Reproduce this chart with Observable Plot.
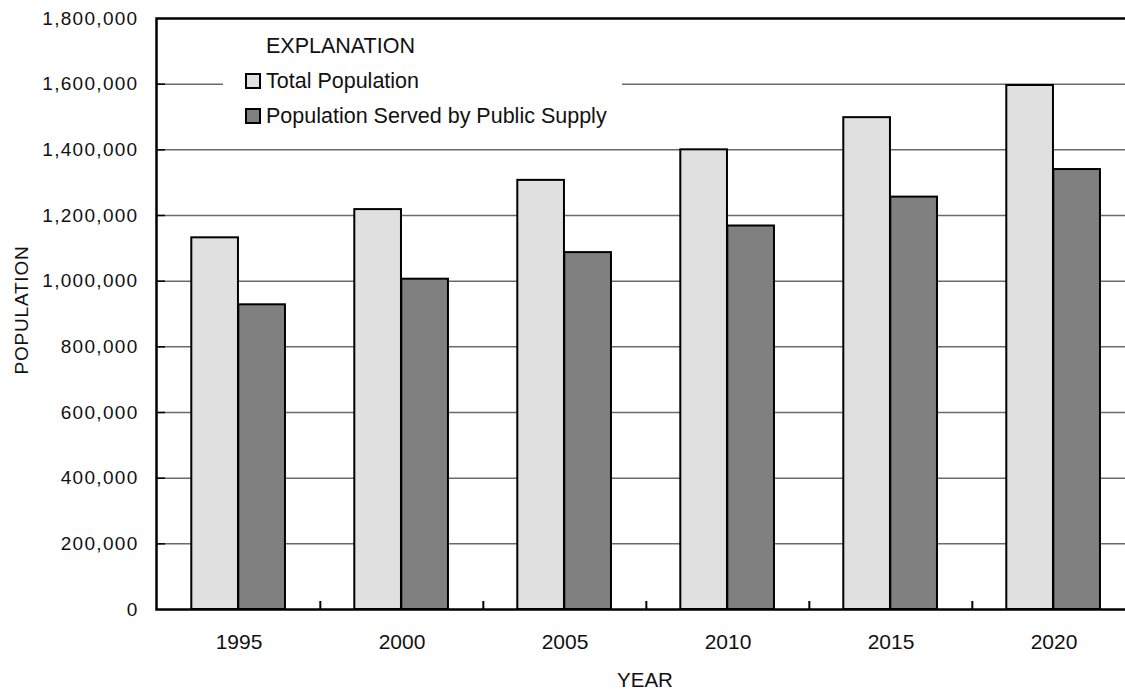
<!DOCTYPE html>
<html>
<head>
<meta charset="utf-8">
<script src="https://cdn.jsdelivr.net/npm/d3@7"></script>
<script src="https://cdn.jsdelivr.net/npm/@observablehq/plot@0.6"></script>
<style>
  html, body { margin: 0; padding: 0; background: #fff; overflow: hidden; }
  #wrap { position: relative; width: 1136px; height: 689px; font-family: "Liberation Sans", Arial, sans-serif; color: #111; }
  .abs { position: absolute; white-space: nowrap; }
  .sw { position: absolute; width: 16px; height: 16px; box-sizing: border-box; border: 2px solid #000; }
</style>
</head>
<body>
<div id="wrap"></div>
<script>
const years = ["1995", "2000", "2005", "2010", "2015", "2020"];
const totalPopulation = [1132000, 1218000, 1307000, 1400000, 1498000, 1596000];
const servedPopulation = [928000, 1006000, 1087000, 1168000, 1256000, 1340000];
const seriesNames = ["Total Population", "Population Served by Public Supply"];
const seriesColors = ["#e0e0e0", "#808080"];
const yTicks = [0, 200000, 400000, 600000, 800000, 1000000, 1200000, 1400000, 1600000, 1800000];

const totalRows = years.map((y, i) => ({year: y, series: seriesNames[0], value: totalPopulation[i]}));
const servedRows = years.map((y, i) => ({year: y, series: seriesNames[1], value: servedPopulation[i]}));

const W = 1136, H = 689, ML = 156, MT = 18, MB = 80, MR = 0;
const plotW = W - ML - MR, plotH = H - MT - MB;
const step = plotW / years.length;
const barW = 47, outer = 34.3;

const chart = Plot.plot({
  width: W, height: H,
  marginLeft: ML, marginRight: MR, marginTop: MT, marginBottom: MB,
  style: {fontFamily: '"Liberation Sans", Arial, sans-serif', fontSize: "21px", color: "#111", background: "#fff", overflow: "visible"},
  x: {type: "band", domain: years, padding: 0, label: null},
  y: {domain: [0, 1800000], label: null},
  color: {domain: seriesNames, range: seriesColors},
  marks: [
    Plot.ruleY(yTicks.slice(1, -1), {stroke: "#6a6a6a", strokeWidth: 1.5}),
    Plot.tickY(yTicks.slice(1, -1), {stroke: "#000", strokeWidth: 1.5, insetRight: plotW - 9}),
    Plot.barY(totalRows, {x: "year", y: "value", fill: "series", stroke: "#000", strokeWidth: 2,
      insetLeft: outer, insetRight: step - outer - barW}),
    Plot.barY(servedRows, {x: "year", y: "value", fill: "series", stroke: "#000", strokeWidth: 2,
      insetLeft: outer + barW, insetRight: step - outer - 2 * barW}),
    Plot.tickX(years.slice(1), {x: d => d, dx: -step / 2, stroke: "#000", strokeWidth: 2, insetTop: plotH - 8}),
    Plot.frame({stroke: "#000", strokeWidth: 2.5}),
    Plot.axisY(yTicks, {tickSize: 0, tickPadding: 18, tickFormat: d3.format(","), fontSize: 19, label: null}),
    Plot.axisX({tickSize: 0, tickPadding: 25, fontSize: 21, label: null})
  ]
});

d3.select(chart).selectAll('g[aria-label="y-axis tick label"] text').attr("letter-spacing", "1.3px");

const wrap = document.getElementById("wrap");
wrap.appendChild(chart);

// Legend (EXPLANATION) overlay with white background
const box = document.createElement("div");
box.className = "abs";
box.style.cssText = "left:223px;top:27px;width:399px;height:110px;background:#fff;";
wrap.appendChild(box);

function addText(txt, left, baseline, size, extra) {
  const d = document.createElement("div");
  d.className = "abs";
  const top = baseline - (size * 0.905 - (size * 0.117) / 2);
  d.style.cssText = `left:${left}px;top:${top}px;font-size:${size}px;line-height:${size}px;` + (extra || "");
  d.textContent = txt;
  wrap.appendChild(d);
  return d;
}
addText("EXPLANATION", 266, 54.3, 21.5);
seriesNames.forEach((name, i) => {
  const base = 89.3 + i * 35;
  const sw = document.createElement("div");
  sw.className = "sw";
  sw.style.left = "245px";
  sw.style.top = (base - 16) + "px";
  sw.style.background = seriesColors[i];
  wrap.appendChild(sw);
  addText(name, 266, base, 21.5);
});

// Axis titles
const yt = document.createElement("div");
yt.className = "abs";
yt.style.cssText = "left:20.5px;top:309.5px;font-size:19px;line-height:19px;transform:translate(-50%,-50%) rotate(-90deg);letter-spacing:0.8px;";
yt.textContent = "POPULATION";
wrap.appendChild(yt);

addText("YEAR", 645, 687, 20.5, "transform:translateX(-50%);");
</script>
</body>
</html>
